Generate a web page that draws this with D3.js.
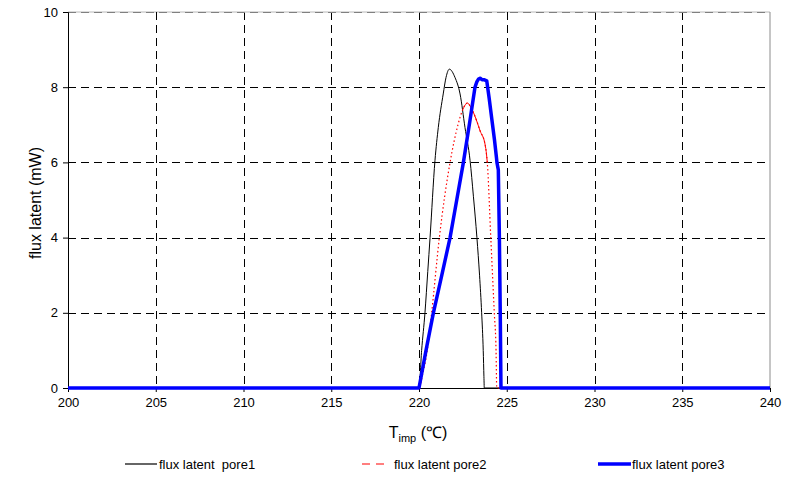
<!DOCTYPE html>
<html>
<head>
<meta charset="utf-8">
<script src="https://cdn.jsdelivr.net/npm/d3@7"></script>
<style>
  html, body { margin: 0; padding: 0; background: #fff; }
  svg { display: block; font-family: "Liberation Sans", Arial, sans-serif; }
</style>
</head>
<body>
<svg id="chart" width="794" height="478"></svg>
<script>
// ---------- data ----------
const tempTicks = [200, 205, 210, 215, 220, 225, 230, 235, 240];
const fluxTicks = [0, 2, 4, 6, 8, 10];

const seriesNames = ["flux latent  pore1", "flux latent pore2", "flux latent pore3"];

const pore1Temp = [200, 220, 220.15, 220.34, 220.5, 220.63, 220.91, 221.1, 221.38, 221.54, 221.73, 222.05, 222.34, 222.62, 222.91, 223.1, 223.3, 223.45, 223.57, 223.66, 223.7, 223.72, 240];
const pore1Flux = [0, 0, 1.0, 2.0, 3.1, 4.0, 6.05, 6.93, 7.82, 8.26, 8.48, 8.26, 7.82, 6.93, 6.05, 5.1, 4.0, 3.0, 2.0, 1.0, 0.3, 0, 0];

const pore2Temp = [200, 220, 220.2, 220.47, 220.72, 221.16, 221.77, 222.22, 222.49, 222.62, 222.76, 222.91, 223.1, 223.29, 223.48, 223.76, 223.85, 223.89, 224.09, 224.29, 224.39, 224.43, 240];
const pore2Flux = [0, 0, 0.35, 1.0, 2.0, 4.0, 6.0, 7.0, 7.4, 7.52, 7.58, 7.5, 7.33, 7.1, 6.84, 6.49, 6.2, 6.0, 4.0, 2.0, 1.0, 0, 0];

const pore3Temp = [200, 220, 220.4, 220.82, 221.3, 221.77, 222.15, 222.53, 222.9, 223.19, 223.3, 223.38, 223.48, 223.59, 223.7, 223.86, 224.0, 224.15, 224.3, 224.42, 224.44, 224.52, 224.58, 224.63, 224.67, 240];
const pore3Flux = [0, 0, 1.0, 2.0, 3.0, 4.0, 5.0, 6.0, 7.1, 8.0, 8.15, 8.21, 8.24, 8.2, 8.2, 8.17, 7.7, 7.15, 6.6, 6.1, 6.0, 5.8, 4.0, 2.0, 0, 0];

// ---------- drawing ----------
const svg = d3.select("#chart");
const x = d3.scaleLinear().domain([200, 240]).range([68, 770]);
const y = d3.scaleLinear().domain([0, 10]).range([388, 12]);

// plot frame (gray top/right)
svg.append("line").attr("x1", x(200)).attr("x2", x(240)).attr("y1", y(10)).attr("y2", y(10))
  .attr("stroke", "#b8b8b8").attr("stroke-width", 1);
svg.append("line").attr("x1", x(240)).attr("x2", x(240)).attr("y1", y(0)).attr("y2", y(10))
  .attr("stroke", "#8c8c8c").attr("stroke-width", 1);

// grid
const grid = svg.append("g").attr("class", "grid");
grid.selectAll("line.v").data(tempTicks.filter(d => d > 200 && d < 240)).enter().append("line")
  .attr("class", "v")
  .attr("x1", d => Math.round(x(d)) + 0.5).attr("x2", d => Math.round(x(d)) + 0.5)
  .attr("y1", y(10)).attr("y2", y(0))
  .attr("stroke", "#000").attr("stroke-width", 1).attr("stroke-dasharray", "8,5");
grid.selectAll("line.h").data(fluxTicks.filter(d => d > 0)).enter().append("line")
  .attr("class", "h")
  .attr("x1", x(200)).attr("x2", x(240))
  .attr("y1", d => Math.round(y(d)) + 0.5).attr("y2", d => Math.round(y(d)) + 0.5)
  .attr("stroke", d => d === 10 ? "#808080" : "#000").attr("stroke-width", 1).attr("stroke-dasharray", "8,5");

// axes
const xAxis = d3.axisBottom(x).tickValues(tempTicks).tickSize(4).tickPadding(6).tickFormat(d3.format("d"));
const yAxis = d3.axisLeft(y).tickValues(fluxTicks).tickSize(5).tickPadding(5).tickFormat(d3.format("d"));

const gx = svg.append("g").attr("transform", `translate(0,${y(0)})`).call(xAxis);
const gy = svg.append("g").attr("transform", `translate(${x(200)},0)`).call(yAxis);
[gx, gy].forEach(g => {
  g.select(".domain").attr("stroke", "#000");
  g.selectAll(".tick line").attr("stroke", "#000");
  g.selectAll(".tick text").attr("fill", "#000").attr("font-size", "13px")
    .attr("font-family", '"Liberation Sans", Arial, sans-serif');
});

// series lines
const smooth = d3.line().x(d => x(d[0])).y(d => y(d[1])).curve(d3.curveMonotoneX);
const straight = d3.line().x(d => x(d[0])).y(d => y(d[1]));
const zip = (a, b) => a.map((v, i) => [v, b[i]]);

const s1 = zip(pore1Temp, pore1Flux);
const s2 = zip(pore2Temp, pore2Flux);
const s3 = zip(pore3Temp, pore3Flux);

svg.append("path").datum(s1).attr("d", smooth)
  .attr("fill", "none").attr("stroke", "#000").attr("stroke-width", 1);

svg.append("path").datum(s2).attr("d", smooth)
  .attr("fill", "none").attr("stroke", "#ff0000").attr("stroke-width", 1.2).attr("stroke-dasharray", "1.5,2.5");
// dense part of pore2 appears solid
svg.append("path").datum(s2.filter(d => d[0] >= 222.45 && d[0] <= 223.9)).attr("d", smooth)
  .attr("fill", "none").attr("stroke", "#ff0000").attr("stroke-width", 1);

svg.append("path").datum(s3).attr("d", straight)
  .attr("fill", "none").attr("stroke", "#0000ff").attr("stroke-width", 3.5).attr("stroke-linejoin", "round");

// axis titles
svg.append("text")
  .attr("transform", `translate(41,203) rotate(-90)`)
  .attr("text-anchor", "middle").attr("font-size", "16px").attr("fill", "#000")
  .text("flux latent (mW)");

const xt = svg.append("text").attr("x", 418).attr("y", 438).attr("text-anchor", "middle")
  .attr("font-size", "16px").attr("fill", "#000");
xt.append("tspan").text("T");
xt.append("tspan").attr("font-size", "11px").attr("dy", 4).text("imp");
xt.append("tspan").attr("dy", -4).text(" (\u2103)");

// legend
const legendItems = [
  { name: seriesNames[0], x1: 125, x2: 157, tx: 159, color: "#000", width: 1.2, dash: null },
  { name: seriesNames[1], x1: 362, x2: 388, tx: 394, color: "#ff0000", width: 1.2, dash: "8,6" },
  { name: seriesNames[2], x1: 598, x2: 631, tx: 632, color: "#0000ff", width: 3.5, dash: null }
];
const lg = svg.append("g");
legendItems.forEach(it => {
  lg.append("line").attr("x1", it.x1).attr("x2", it.x2).attr("y1", 464).attr("y2", 464)
    .attr("stroke", it.color).attr("stroke-width", it.width)
    .attr("stroke-dasharray", it.dash);
  lg.append("text").attr("x", it.tx).attr("y", 469).attr("font-size", "13px").attr("fill", "#000")
    .style("white-space", "pre").text(it.name);
});
</script>
</body>
</html>
